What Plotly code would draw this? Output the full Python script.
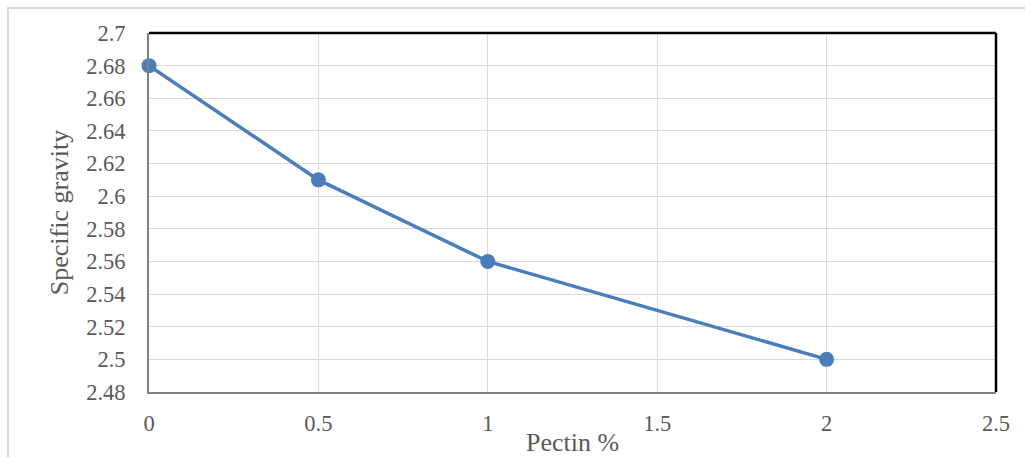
import plotly.graph_objects as go

# Specific gravity vs pectin content
pectin_pct = [0, 0.5, 1, 2]
specific_gravity = [2.68, 2.61, 2.56, 2.50]

x_ticks = [0, 0.5, 1, 1.5, 2, 2.5]
x_tick_text = ["0", "0.5", "1", "1.5", "2", "2.5"]
y_ticks = [2.48, 2.5, 2.52, 2.54, 2.56, 2.58, 2.6, 2.62, 2.64, 2.66, 2.68, 2.7]
y_tick_text = ["2.48", "2.5", "2.52", "2.54", "2.56", "2.58", "2.6", "2.62", "2.64", "2.66", "2.68", "2.7"]

W, H = 1025, 457
L, R, T, B = 149, 29, 33, 65
pw, ph = W - L - R, H - T - B

FONT = "Liberation Serif"
TXT = "#595959"
BLUE = "#4a7ebb"
TICKFONT = dict(family=FONT, size=22.5, color=TXT)
TITLEFONT = dict(family=FONT, size=26, color=TXT)

fig = go.Figure()
fig.add_trace(go.Scatter(
    x=pectin_pct, y=specific_gravity, mode="lines+markers",
    line=dict(color=BLUE, width=3.5),
    marker=dict(color=BLUE, size=15),
    showlegend=False, cliponaxis=False,
))

def px_x(p):
    return (p - L) / pw

def px_y(p):
    return 1 - (p - T) / ph

shapes = [
    # outer chart frame
    dict(type="rect", xref="paper", yref="paper",
         x0=px_x(8), x1=px_x(1030), y0=px_y(8), y1=px_y(470),
         line=dict(color="#d9d9d9", width=2), layer="below"),
    # black top and right edges of the plot box
    dict(type="line", xref="paper", yref="paper", x0=0, x1=1, y0=1, y1=1,
         line=dict(color="black", width=2.5)),
    dict(type="line", xref="paper", yref="paper", x0=1, x1=1, y0=0, y1=1,
         line=dict(color="black", width=2.5)),
]

fig.update_layout(
    width=W, height=H,
    margin=dict(l=L, r=R, t=T, b=B, autoexpand=False),
    paper_bgcolor="white", plot_bgcolor="white",
    font=dict(family=FONT, size=22.5, color=TXT),
    shapes=shapes,
    xaxis=dict(
        range=[0, 2.5], tickvals=x_ticks, ticktext=x_tick_text,
        tickfont=TICKFONT, automargin=False,
        showgrid=True, gridcolor="#d9d9d9", gridwidth=1,
        showline=True, linecolor="#808080", linewidth=2,
        zeroline=False, ticks="", ticklabelstandoff=10,
        title=dict(text="Pectin %", standoff=1, font=TITLEFONT),
    ),
    yaxis=dict(
        range=[2.48, 2.7], tickvals=y_ticks, ticktext=y_tick_text,
        tickfont=TICKFONT, automargin=False,
        showgrid=True, gridcolor="#d9d9d9", gridwidth=1,
        showline=True, linecolor="#808080", linewidth=2,
        zeroline=False, ticks="", ticklabelstandoff=17,
        title=dict(text="Specific gravity", standoff=10, font=TITLEFONT),
    ),
)

fig.write_html("out.html")
